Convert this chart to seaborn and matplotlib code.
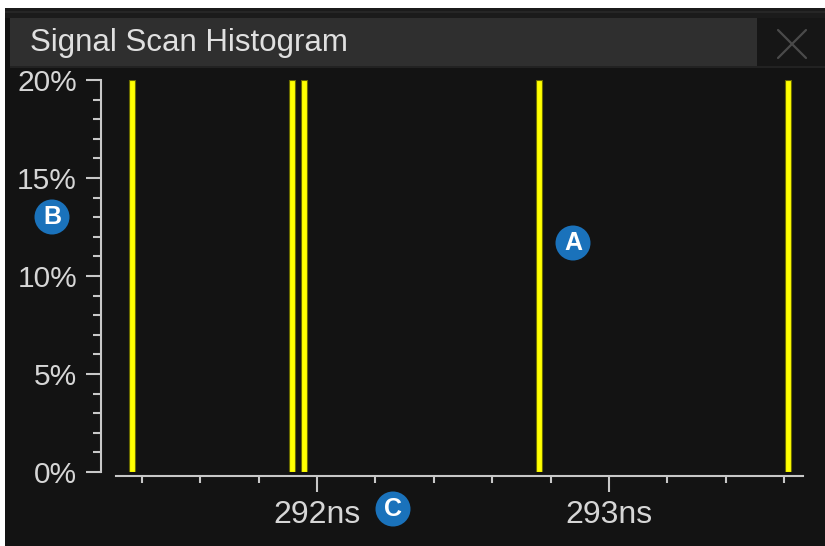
import numpy as np
import pandas as pd
import matplotlib
matplotlib.use("Agg")
import matplotlib.pyplot as plt
from matplotlib.patches import Rectangle
from matplotlib.lines import Line2D
from matplotlib.ticker import FixedLocator, MultipleLocator
import seaborn as sns

# ---- data ----
title = "Signal Scan Histogram"
bin_ns = [291.367, 291.913, 291.957, 292.761, 293.614]
percent = [20, 20, 20, 20, 20]
x_ticks = [292, 293]
x_ticklabels = ["292ns", "293ns"]
y_ticks = [0, 5, 10, 15, 20]
y_ticklabels = ["0%", "5%", "10%", "15%", "20%"]
x_range = [291.312, 293.664]
y_range = [0, 20]
markers = ["A", "B", "C"]

df = pd.DataFrame({"t": bin_ns, "p": percent})

sns.set_style("dark")
plt.rcParams["font.family"] = ["Liberation Sans", "DejaVu Sans"]

W, H = 825, 546
fig = plt.figure(figsize=(W / 100, H / 100), dpi=100)
fig.patch.set_facecolor("#131313")

def fx(px):
    return px / W

def fy(py):
    return 1 - py / H

def rect(x0, y0, x1, y1, color, z=0):
    fig.add_artist(Rectangle((fx(x0), fy(y1)), fx(x1) - fx(x0), fy(y0) - fy(y1),
                             transform=fig.transFigure, facecolor=color,
                             edgecolor="none", zorder=z))

# frame decorations
rect(0, 0, W, 8, "white", 1)
rect(0, 0, 5, H, "white", 1)
rect(5, 8, W, 18, "#1b1b1b", 1)
rect(5, 11, W, 13, "#262626", 1)
rect(10, 18, 757, 67, "#2f2f2f", 1)
rect(757, 18, W, 66, "#161616", 1)
rect(10, 66, W, 68, "#222222", 1)
fig.add_artist(Line2D([fx(778), fx(806)], [fy(30), fy(58)], transform=fig.transFigure,
                      color="#4a4a4a", lw=1.6, zorder=2))
fig.add_artist(Line2D([fx(778), fx(806)], [fy(58), fy(30)], transform=fig.transFigure,
                      color="#4a4a4a", lw=1.6, zorder=2))
fig.text(fx(30), fy(43), title, color="#e0e0e0", fontsize=22.5, va="center", ha="left", zorder=3)

# axes
ax = fig.add_axes([fx(116), fy(472), fx(803) - fx(116), fy(80) - fy(472)])
ax.set_facecolor("#131313")

min_gap = np.diff(np.sort(bin_ns)).min()
bar_w = 0.0205 / min_gap
sns.barplot(data=df, x="t", y="p", native_scale=True, orient="x", width=bar_w,
            color="#ffff00", saturation=1, errorbar=None, ax=ax,
            edgecolor="#6a6a00", linewidth=0.8)

ax.set_xlim(*x_range)
ax.set_ylim(*y_range)
ax.grid(False)
ax.set_xlabel("")
ax.set_ylabel("")

for s in ["top", "right"]:
    ax.spines[s].set_visible(False)
for s in ["left", "bottom"]:
    ax.spines[s].set_visible(True)
    ax.spines[s].set_color("#c8c8c8")
    ax.spines[s].set_linewidth(1.5)
ax.spines["left"].set_position(("outward", 10.5))
ax.spines["bottom"].set_position(("outward", 3))

ax.xaxis.set_major_locator(FixedLocator(x_ticks))
ax.set_xticklabels(x_ticklabels)
ax.xaxis.set_minor_locator(MultipleLocator(0.2))
ax.yaxis.set_major_locator(FixedLocator(y_ticks))
ax.set_yticklabels(y_ticklabels)
ax.yaxis.set_minor_locator(MultipleLocator(1))

ax.tick_params(axis="both", which="both", color="#c8c8c8", width=1.5,
               labelcolor="#d6d6d6", direction="out")
ax.tick_params(axis="y", which="major", length=10.5, pad=7, labelsize=21.5)
ax.tick_params(axis="y", which="minor", length=5.5)
ax.tick_params(axis="x", which="major", length=11.5, pad=6, labelsize=23)
ax.tick_params(axis="x", which="minor", length=5)
ax.tick_params(left=True, bottom=True, which="both")

# callout markers
marker_pos = [(573, 243), (52, 217), (393, 509)]
for lab, (px, py) in zip(markers, marker_pos):
    fig.text(fx(px), fy(py), lab, color="white", fontsize=18, fontweight="bold",
             ha="center", va="center", zorder=5,
             bbox=dict(boxstyle="circle,pad=0.22", facecolor="#1a72bb", edgecolor="none"))

fig.savefig("out.png", dpi=100, facecolor=fig.get_facecolor())
